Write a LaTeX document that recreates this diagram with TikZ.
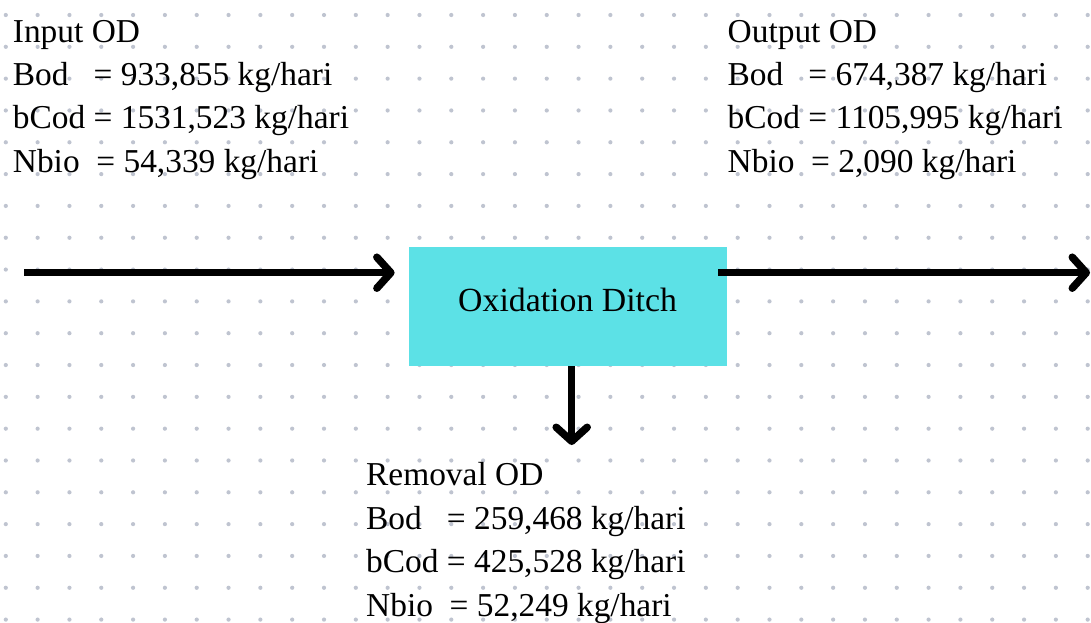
\documentclass[tikz,border=0pt]{standalone}
\usepackage{fontspec}
\setmainfont{Liberation Serif}
\usetikzlibrary{arrows.meta}
\definecolor{ditchcyan}{HTML}{5CE1E6}
\definecolor{griddot}{HTML}{BFC4D0}
\begin{document}
\begin{tikzpicture}[x=1pt,y=-1pt,
  flow/.style={line width=7.5pt,
    -{Straight Barb[length=14pt,width=31pt,round]}},
  readout/.style={anchor=base west, inner sep=0pt,
    font=\fontsize{33.4}{40}\selectfont},
  unitbox/.style={fill=ditchcyan, draw=none, inner sep=0pt,
    minimum width=318pt, minimum height=119pt},
  unitlabel/.style={anchor=base, inner sep=0pt,
    font=\fontsize{33.8}{40}\selectfont}]
  \useasboundingbox (0,0) rectangle (1091,622);
  \fill[white] (0,0) rectangle (1091,622);

  % dotted background grid
  \foreach \i in {0,...,34}
    \foreach \j in {0,...,19}
      \fill[griddot] (5.8+31.82*\i, 15+31.82*\j) circle (2.1pt);

  % process unit
  \node[unitbox] (od) at (567.8,306.5) {};
  \node[unitlabel] (odname) at (567.6,311.7) {Oxidation Ditch};

  % stream end points
  \coordinate (feed) at (24,272.7);
  \coordinate (effluent) at (1090,272.7);
  \coordinate (removal) at (571.7,445);

  % streams
  \draw[flow, shorten >=14pt] (feed) -- (feed -| od.west);
  \draw[flow] ([xshift=-9pt]od.east |- effluent) -- (effluent);
  \draw[flow] (removal |- od.south) -- (removal);

  % input loads
  \node[readout] (in0) at (12.7,42)    {Input OD};
  \node[readout] (in1) at (12.7,85)    {Bod\ \ \ = 933,855 kg/hari};
  \node[readout] (in2) at (12.7,128.5) {bCod = 1531,523 kg/hari};
  \node[readout] (in3) at (12.7,172)   {Nbio\ \ = 54,339 kg/hari};

  % output loads
  \node[readout] (out0) at (727.5,42)    {Output OD};
  \node[readout] (out1) at (727.5,85)    {Bod\ \ \ = 674,387 kg/hari};
  \node[readout] (out2) at (727.5,128.5) {bCod = 1105,995 kg/hari};
  \node[readout] (out3) at (727.5,172)   {Nbio\ \ = 2,090 kg/hari};

  % removed loads
  \node[readout] (rem0) at (366,485) {Removal OD};
  \node[readout] (rem1) at (366,529) {Bod\ \ \ = 259,468 kg/hari};
  \node[readout] (rem2) at (366,572) {bCod = 425,528 kg/hari};
  \node[readout] (rem3) at (366,616) {Nbio\ \ = 52,249 kg/hari};
\end{tikzpicture}
\end{document}
